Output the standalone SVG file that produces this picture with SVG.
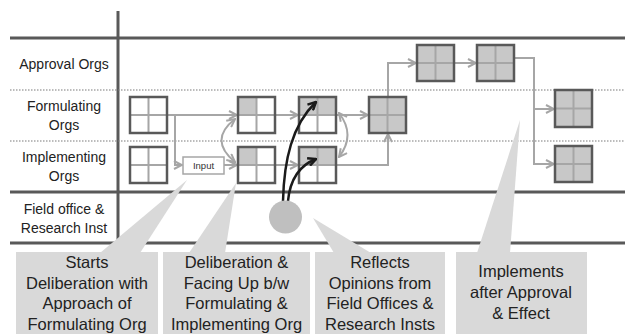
<svg xmlns="http://www.w3.org/2000/svg" width="625" height="334" viewBox="0 0 625 334">
<style>
.lbl{font-family:"Liberation Sans",Arial,sans-serif;font-size:14px;fill:#222;text-anchor:middle}
.cl{font-family:"Liberation Sans",Arial,sans-serif;font-size:16.5px;fill:#222;text-anchor:middle}
.thick{stroke:#595959;stroke-width:3;fill:none}
.dot{stroke:#7a7a7a;stroke-width:1.2;stroke-dasharray:1.5 1.5;fill:none}
.bx{fill:none;stroke:#595959;stroke-width:2.5}
.gr{stroke:#a6a6a6;stroke-width:2;fill:none}
.sh{fill:#c8c8c8}
.wh{fill:#fff}
.cn{stroke:#a6a6a6;stroke-width:2;fill:none}
.bk{stroke:#1a1a1a;stroke-width:2.5;fill:none}
.co{fill:#d9d9d9}
</style>
<defs>
<marker id="ga" viewBox="0 0 10 10" refX="9" refY="5" markerUnits="userSpaceOnUse" markerWidth="10" markerHeight="10" orient="auto-start-reverse">
<path d="M1,1 L9,5 L1,9" fill="none" stroke="#a6a6a6" stroke-width="2"/>
</marker>
<marker id="ba" viewBox="0 0 10 10" refX="9" refY="5" markerUnits="userSpaceOnUse" markerWidth="10" markerHeight="10" orient="auto">
<path d="M1,1 L9,5 L1,9" fill="none" stroke="#1a1a1a" stroke-width="2.5"/>
</marker>
</defs>
<rect width="625" height="334" fill="#fff"/>
<g id="grid">
<line class="thick" x1="118" y1="11" x2="118" y2="243"/>
<line class="thick" x1="10" y1="38" x2="625" y2="38"/>
<line class="thick" x1="10" y1="192" x2="625" y2="192"/>
<line class="thick" x1="10" y1="243" x2="625" y2="243"/>
<line class="dot" x1="10" y1="90" x2="625" y2="90"/>
<line class="dot" x1="10" y1="141" x2="625" y2="141"/>
</g>
<g id="row-labels">
<text class="lbl" x="64" y="69">Approval Orgs</text>
<text class="lbl" x="64" y="111">Formulating</text>
<text class="lbl" x="64" y="130">Orgs</text>
<text class="lbl" x="64" y="162">Implementing</text>
<text class="lbl" x="64" y="181">Orgs</text>
<text class="lbl" x="64" y="214">Field office &amp;</text>
<text class="lbl" x="64" y="233">Research Inst</text>
</g>
<g id="connectors">
<path class="cn" d="M167,115 H237" marker-end="url(#ga)"/>
<path class="cn" d="M175,115 V165 H182" marker-end="url(#ga)"/>
<path class="cn" d="M224,165 H237" marker-end="url(#ga)"/>
<path class="cn" d="M235,119 Q208,140 235,162" marker-start="url(#ga)" marker-end="url(#ga)"/>
<path class="cn" d="M275,115 H298" marker-end="url(#ga)"/>
<path class="cn" d="M275,165 H298" marker-end="url(#ga)"/>
<path class="cn" d="M339,113 Q356,135 339,157" marker-start="url(#ga)" marker-end="url(#ga)"/>
<path class="cn" d="M336,115 H368" marker-end="url(#ga)"/>
<path class="cn" d="M336,165 H388 V134" marker-end="url(#ga)"/>
<path class="cn" d="M388,97 V63 H416" marker-end="url(#ga)"/>
<path class="cn" d="M454,63 H476" marker-end="url(#ga)"/>
<path class="cn" d="M514,58 H534 V164 H554" marker-end="url(#ga)"/>
<path class="cn" d="M534,109 H554" marker-end="url(#ga)"/>
</g>
<g id="input">
<rect x="183" y="157" width="41" height="17" fill="#fff" stroke="#a6a6a6" stroke-width="1.5"/>
<text x="203.5" y="169" font-family="Liberation Sans,Arial,sans-serif" font-size="9.5" fill="#333" text-anchor="middle">Input</text>
</g>
<g id="f1"><rect class="wh" x="130" y="97" width="37" height="36"/><path class="gr" d="M148.5,97 V133 M130,115 H167"/><rect class="bx" x="130" y="97" width="37" height="36"/></g>
<g id="i1"><rect class="wh" x="130" y="147" width="37" height="36"/><path class="gr" d="M148.5,147 V183 M130,165 H167"/><rect class="bx" x="130" y="147" width="37" height="36"/></g>
<g id="f2"><rect class="wh" x="238" y="97" width="37" height="36"/><rect class="sh" x="238" y="97" width="18.5" height="18"/><path class="gr" d="M256.5,97 V133 M238,115 H275"/><rect class="bx" x="238" y="97" width="37" height="36"/></g>
<g id="i2"><rect class="wh" x="238" y="147" width="37" height="36"/><rect class="sh" x="238" y="147" width="18.5" height="18"/><path class="gr" d="M256.5,147 V183 M238,165 H275"/><rect class="bx" x="238" y="147" width="37" height="36"/></g>
<g id="f3"><rect class="wh" x="299" y="97" width="37" height="36"/><rect class="sh" x="299" y="97" width="37" height="18"/><path class="gr" d="M317.5,97 V133 M299,115 H336"/><rect class="bx" x="299" y="97" width="37" height="36"/></g>
<g id="i3"><rect class="wh" x="299" y="147" width="37" height="36"/><rect class="sh" x="299" y="147" width="37" height="18"/><path class="gr" d="M317.5,147 V183 M299,165 H336"/><rect class="bx" x="299" y="147" width="37" height="36"/></g>
<g id="f4"><rect class="sh" x="369" y="97" width="37" height="36"/><path class="gr" d="M387.5,97 V133 M369,115 H406"/><rect class="bx" x="369" y="97" width="37" height="36"/></g>
<g id="a1"><rect class="sh" x="417" y="45" width="37" height="36"/><path class="gr" d="M435.5,45 V81 M417,63 H454"/><rect class="bx" x="417" y="45" width="37" height="36"/></g>
<g id="a2"><rect class="sh" x="477" y="45" width="37" height="36"/><path class="gr" d="M495.5,45 V81 M477,63 H514"/><rect class="bx" x="477" y="45" width="37" height="36"/></g>
<g id="f5"><rect class="sh" x="555" y="90" width="37" height="37"/><path class="gr" d="M573.5,90 V127 M555,108.5 H592"/><rect class="bx" x="555" y="90" width="37" height="37"/></g>
<g id="i5"><rect class="sh" x="555" y="146" width="37" height="36"/><path class="gr" d="M573.5,146 V182 M555,164 H592"/><rect class="bx" x="555" y="146" width="37" height="36"/></g>
<g id="field-arrows">
<path class="bk" d="M283,201 C284,160 292,125 316,102" marker-end="url(#ba)"/>
<path class="bk" d="M288,201 C290,180 298,166 316,159" marker-end="url(#ba)"/>
</g>
<g id="field-office"><circle cx="285.5" cy="217" r="16.5" fill="#bfbfbf"/></g>
<g id="callout1">
<polygon class="co" points="100,253 140,253 187,180"/>
<rect class="co" x="16" y="252" width="142" height="82"/>
<text class="cl" x="87" y="268">Starts</text>
<text class="cl" x="87" y="288.5">Deliberation with</text>
<text class="cl" x="87" y="309">Approach of</text>
<text class="cl" x="87" y="329.5">Formulating Org</text>
</g>
<g id="callout2">
<polygon class="co" points="189,253 225,253 236,183"/>
<rect class="co" x="163" y="252" width="147" height="82"/>
<text class="cl" x="236.5" y="268">Deliberation &amp;</text>
<text class="cl" x="236.5" y="288.5">Facing Up b/w</text>
<text class="cl" x="236.5" y="309">Formulating &amp;</text>
<text class="cl" x="236.5" y="329.5">Implementing Org</text>
</g>
<g id="callout3">
<polygon class="co" points="334,253 371,253 313,218"/>
<rect class="co" x="315" y="252" width="130" height="82"/>
<text class="cl" x="380" y="268">Reflects</text>
<text class="cl" x="380" y="288.5">Opinions from</text>
<text class="cl" x="380" y="309">Field Offices &amp;</text>
<text class="cl" x="380" y="329.5">Research Insts</text>
</g>
<g id="callout4">
<polygon class="co" points="477,253 510,253 520,120"/>
<rect class="co" x="456" y="252" width="131" height="82"/>
<text class="cl" x="521" y="277">Implements</text>
<text class="cl" x="521" y="298">after Approval</text>
<text class="cl" x="521" y="319">&amp; Effect</text>
</g>
</svg>
